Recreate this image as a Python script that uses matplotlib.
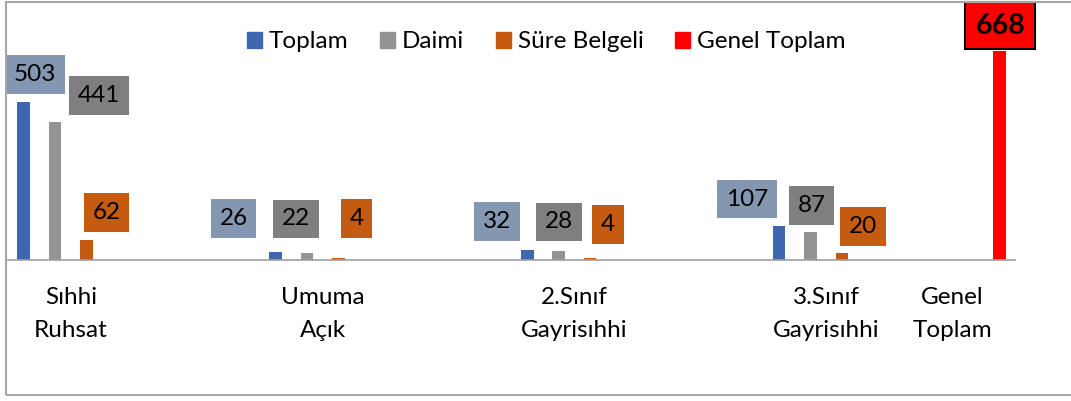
import numpy as np
import matplotlib
matplotlib.use('Agg')
import matplotlib.pyplot as plt
from matplotlib.patches import Patch, Rectangle

plt.rcParams['font.family'] = ['Lato', 'DejaVu Sans']

# veriler
categories = ['Sıhhi\nRuhsat', 'Umuma\nAçık', '2.Sınıf\nGayrisıhhi', '3.Sınıf\nGayrisıhhi', 'Genel\nToplam']
series_names = ['Toplam', 'Daimi', 'Süre Belgeli', 'Genel Toplam']
toplam = [503, 26, 32, 107]
daimi = [441, 22, 28, 87]
sure_belgeli = [62, 4, 4, 20]
genel_toplam = [668]

# gorunum
cat_pos = [0, 1, 2, 3, 3.5]
slot = 0.125
bar_w = 0.05
bar_colors = ['#3F66B0', '#939393', '#C55A11', '#FF0000']
box_colors = ['#8497B0', '#7F7F7F', '#C55A11', '#FF0000']
# etiket kutularinin cubuk tepesine gore kaymasi (piksel)
label_off = [
    [(11, 28), (-42, 33), (-30, 28), (-32, 27)],
    [(44, 26), (-11, 34), (0, 29), (1, 27)],
    [(20, 28), (18, 40), (18, 34), (21, 27)],
]
genel_off = (1, 25)

fig = plt.figure(figsize=(10.71, 4.01), dpi=100)
ax = fig.add_axes([8 / 1071, 1 - 259.7 / 401, 1007 / 1071, 219 / 401])

groups = [toplam, daimi, sure_belgeli]
for s, vals in enumerate(groups):
    xs = [cat_pos[i] + (s - 1.5) * slot for i in range(len(vals))]
    ax.bar(xs, vals, width=bar_w, color=bar_colors[s], zorder=2)
    for i, (x, v) in enumerate(zip(xs, vals)):
        ax.annotate(str(v), (x, v), xytext=label_off[s][i], textcoords='offset pixels',
                    ha='center', va='center', fontsize=17.5, color='black',
                    bbox=dict(boxstyle='square,pad=0.36', fc=box_colors[s], ec='none'))

xg = cat_pos[4] + 1.5 * slot
ax.bar([xg], genel_toplam, width=bar_w, color=bar_colors[3], zorder=2)
ax.annotate(str(genel_toplam[0]), (xg, genel_toplam[0]), xytext=genel_off, textcoords='offset pixels',
            ha='center', va='center', fontsize=20.5, fontweight='bold', color='black',
            bbox=dict(boxstyle='square,pad=0.36', fc=box_colors[3], ec='black', lw=1.5),
            annotation_clip=False)

ax.set_xlim(-0.25, 3.75)
ax.set_ylim(0, 700)
ax.set_xticks(cat_pos, categories)
ax.tick_params(axis='x', length=0, pad=20, labelsize=17.5)
ax.set_yticks([])
for sp in ['top', 'right', 'left']:
    ax.spines[sp].set_visible(False)
ax.spines['bottom'].set_color('#A0A0A0')
ax.spines['bottom'].set_linewidth(1.2)
for t in ax.get_xticklabels():
    t.set_linespacing(1.65)

handles = [Patch(color=c) for c in bar_colors]
fig.legend(handles, series_names, loc='center', bbox_to_anchor=(546.5 / 1071, 1 - 42 / 401),
           ncol=4, frameon=False, fontsize=17.5, handlelength=0.6, handleheight=0.6,
           handletextpad=0.3, columnspacing=1.3)

# cerceve
fig.patches.append(Rectangle((6 / 1071, 6.5 / 401), 1.2, 393 / 401, transform=fig.transFigure,
                             fill=False, ec='#A6A6A6', lw=1.5))

fig.savefig('out.png', dpi=100)
